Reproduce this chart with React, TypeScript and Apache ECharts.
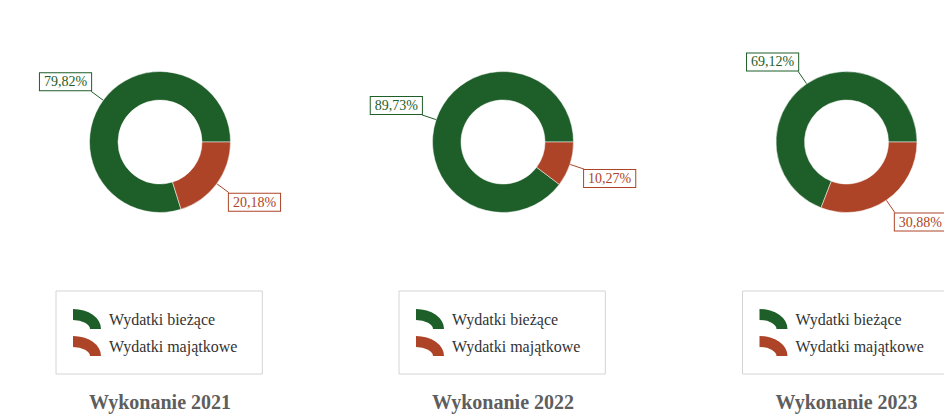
import React, { useEffect, useRef } from "react";
import * as echarts from "echarts";

const categories = ["Wydatki bieżące", "Wydatki majątkowe"];
const years = ["Wykonanie 2021", "Wykonanie 2022", "Wykonanie 2023"];
const currentShare = [79.82, 89.73, 69.12];
const capitalShare = [20.18, 10.27, 30.88];

const GREEN = "#1e5e29";
const RED = "#ad4427";
const FONT = "'Liberation Serif', 'Times New Roman', serif";
const CENTERS_X = [160, 503, 846.5];
const CENTER_Y = 142;
const ICON = "path://M0,0 A28,20 0 0 1 28,20 L17,20 A17,9 0 0 0 0,11 Z";

const fmt = (v: number) => v.toFixed(2).replace(".", ",") + "%";

export default function App() {
  const ref = useRef<HTMLDivElement>(null);
  useEffect(() => {
    if (!ref.current) return;
    const chart = echarts.init(ref.current, null, { renderer: "svg" });
    const colors = [GREEN, RED];

    const series = years.map((y, i) => ({
      type: "pie",
      name: y,
      center: [CENTERS_X[i], CENTER_Y],
      radius: [42, 70.5],
      startAngle: 0,
      clockwise: false,
      avoidLabelOverlap: false,
      itemStyle: { borderColor: "#fff", borderWidth: 0.5 },
      label: {
        show: true,
        position: "outside",
        formatter: (p: any) => fmt(p.value),
        fontFamily: FONT,
        fontSize: 14,
        lineHeight: 15,
        padding: [1, 4, 1, 4],
        backgroundColor: "#fff",
        borderWidth: 1,
      },
      labelLine: { show: true, length: 15, length2: 0, lineStyle: { width: 1 } },
      labelLayout: (params: any) => {
        const pts = params.labelLinePoints;
        if (!pts) return {};
        const p0 = pts[0];
        const p1 = pts[1];
        const dx = p1[0] - p0[0];
        const dy = p1[1] - p0[1];
        const h = params.labelRect.height;
        return {
          x: p1[0],
          y: p1[1] + (dy < 0 ? -h / 2 : h / 2),
          align: dx < 0 ? "right" : "left",
          verticalAlign: "middle",
          labelLinePoints: [p0, p1, p1],
        };
      },
      data: [
        {
          name: categories[0],
          value: currentShare[i],
          itemStyle: { color: GREEN },
          label: { color: GREEN, borderColor: GREEN },
          labelLine: { lineStyle: { color: GREEN } },
        },
        {
          name: categories[1],
          value: capitalShare[i],
          itemStyle: { color: RED },
          label: { color: RED, borderColor: RED },
          labelLine: { lineStyle: { color: RED } },
        },
      ],
    }));

    const legends = years.map((_, i) => ({
      orient: "vertical",
      left: CENTERS_X[i] - 104,
      top: 291,
      padding: [18, 25, 18, 17],
      borderColor: "#d4d4d4",
      borderWidth: 1,
      itemWidth: 28,
      itemHeight: 20,
      itemGap: 7,
      selectedMode: false,
      icon: ICON,
      itemStyle: { borderWidth: 0 },
      data: categories,
      textStyle: {
        fontFamily: FONT,
        fontSize: 16,
        color: "#333",
        padding: [0, 0, 0, 3],
      },
    }));

    const titles = years.map((y, i) => ({
      type: "text",
      x: CENTERS_X[i],
      y: 402,
      style: {
        text: y,
        align: "center",
        verticalAlign: "middle",
        fontFamily: FONT,
        fontSize: 20,
        fontWeight: "bold",
        fill: "#5e5e5e",
      },
    }));

    chart.setOption({
      animation: false,
      color: colors,
      legend: legends,
      series,
      graphic: titles,
    } as any);
    return () => chart.dispose();
  }, []);
  return (
    <div
      ref={ref}
      style={{ position: "absolute", left: 0, top: 0, width: 944, height: 416, background: "#fff" }}
    />
  );
}
